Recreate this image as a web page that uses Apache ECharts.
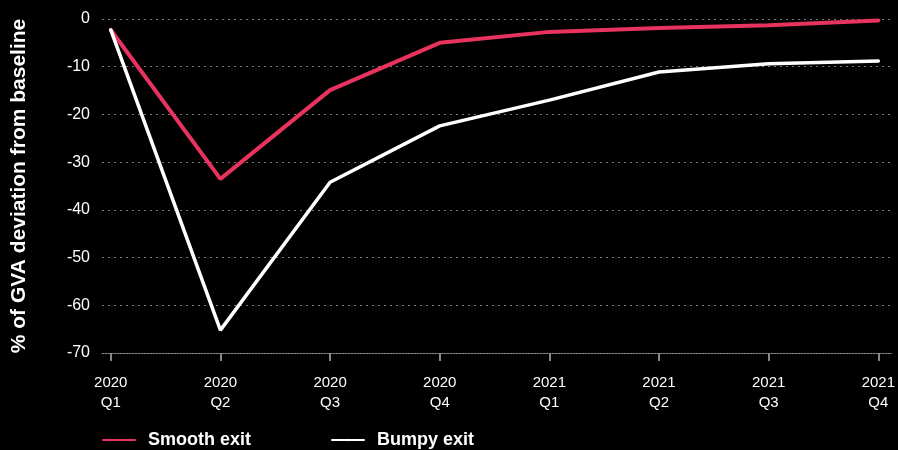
<!DOCTYPE html>
<html>
<head>
<meta charset="utf-8">
<script src="https://cdn.jsdelivr.net/npm/echarts@6/dist/echarts.min.js"></script>
<style>
	html, body { margin: 0; padding: 0; background: #000; }
	#chart { width: 898px; height: 450px; }
</style>
</head>
<body>
<div id="chart"></div>
<script>
	// quarters on the x axis
	var quarters = [ '2020\nQ1', '2020\nQ2', '2020\nQ3', '2020\nQ4', '2021\nQ1', '2021\nQ2', '2021\nQ3', '2021\nQ4' ];
	// % of GVA deviation from baseline
	var smoothExit = [ -2.3, -33.5, -14.9, -5.0, -2.7, -1.9, -1.3, -0.3 ];
	var bumpyExit = [ -2.3, -65.2, -34.2, -22.4, -17.0, -11.1, -9.4, -8.8 ];

	var tickPos = [];
	for (var i = 0; i < quarters.length; i++) {
		tickPos.push(i);
	}
	function toPairs(arr) {
		var out = [];
		for (var i = 0; i < arr.length; i++) {
			out.push([ i, arr[i] ]);
		}
		return out;
	}

	var mychart = echarts.init(document.getElementById('chart'));
	var option = {
		backgroundColor : '#000000',
		animation : false,
		textStyle : {
			fontFamily : 'Liberation Sans, Arial, sans-serif'
		},
		legend : {
			left : 97,
			top : 426,
			itemWidth : 32,
			itemHeight : 3,
			itemGap : 80,
			textStyle : {
				color : '#ffffff',
				fontSize : 18,
				fontWeight : 'bold',
				padding : [ 0, 0, 0, 8 ]
			},
			data : [ 'Smooth exit', 'Bumpy exit' ]
		},
		grid : {
			left : 102,
			right : 3,
			top : 19,
			bottom : 97
		},
		xAxis : {
			type : 'value',
			min : -0.08,
			max : 7.12,
			splitLine : {
				show : false
			},
			axisLine : {
				show : true,
				onZero : false,
				lineStyle : {
					color : '#888888',
					width : 1,
					type : [ 2, 1 ]
				}
			},
			axisTick : {
				show : true,
				customValues : tickPos,
				length : 8,
				lineStyle : {
					color : '#888888',
					width : 2
				}
			},
			axisLabel : {
				customValues : tickPos,
				color : '#ffffff',
				fontSize : 15,
				lineHeight : 20,
				margin : 20,
				formatter : function(v) {
					return quarters[Math.round(v)];
				}
			}
		},
		yAxis : {
			type : 'value',
			min : -70,
			max : 0,
			interval : 10,
			name : '% of GVA deviation from baseline',
			nameLocation : 'middle',
			nameGap : 72,
			nameTextStyle : {
				color : '#ffffff',
				fontSize : 21,
				fontWeight : 'bold'
			},
			axisLine : {
				show : false
			},
			axisTick : {
				show : false
			},
			axisLabel : {
				color : '#ffffff',
				fontSize : 16,
				margin : 12
			},
			splitLine : {
				lineStyle : {
					color : '#777777',
					type : [ 2, 4 ],
					width : 1
				}
			}
		},
		series : [ {
			name : 'Smooth exit',
			type : 'line',
			symbol : 'none',
			color : '#e8335f',
			lineStyle : {
				width : 4,
				cap : 'round'
			},
			data : toPairs(smoothExit)
		}, {
			name : 'Bumpy exit',
			type : 'line',
			symbol : 'none',
			color : '#ffffff',
			lineStyle : {
				width : 3.5,
				cap : 'round'
			},
			data : toPairs(bumpyExit)
		} ]
	};
	mychart.setOption(option);
</script>
</body>
</html>
